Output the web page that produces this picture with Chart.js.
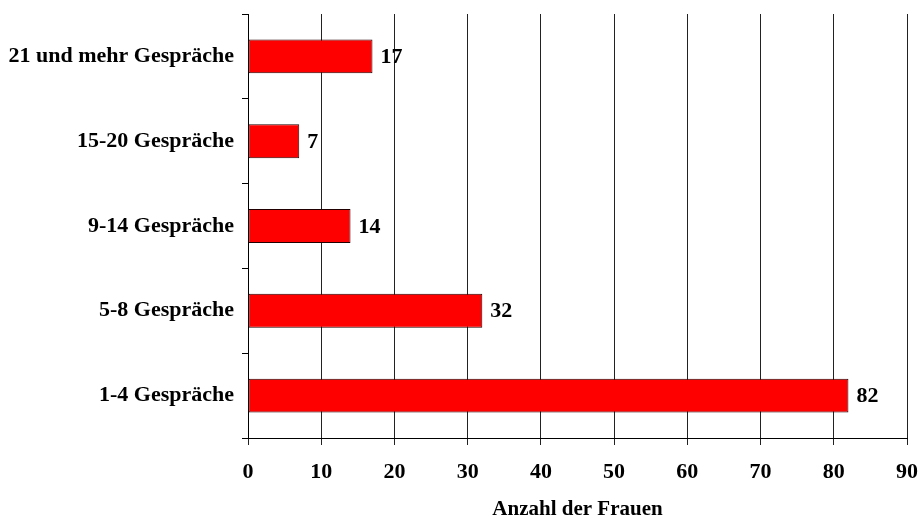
<!DOCTYPE html>
<html lang="de">
<head>
  <meta charset="UTF-8" />
  <title>Anzahl der Gespräche</title>
  <script src="https://cdn.jsdelivr.net/npm/chart.js"></script>
  <style>
    body {
      margin: 0;
      background-color: #ffffff;
    }
    canvas {
      display: block;
    }
  </style>
</head>
<body>
  <canvas id="gespraecheChart" width="919" height="518"></canvas>

  <script>
    const categories = ['21 und mehr Gespräche', '15-20 Gespräche', '9-14 Gespräche', '5-8 Gespräche', '1-4 Gespräche'];
    const frauen = [17, 7, 14, 32, 82];
    const xTicks = [0, 10, 20, 30, 40, 50, 60, 70, 80, 90];

    const fontFamily = '"Liberation Serif", "Times New Roman", serif';

    // value labels at the end of each bar
    const valueLabels = {
      id: 'valueLabels',
      afterDatasetsDraw(chart) {
        const ctx = chart.ctx;
        const meta = chart.getDatasetMeta(0);
        ctx.save();
        ctx.font = 'bold 22px ' + fontFamily;
        ctx.fillStyle = '#000';
        ctx.textAlign = 'left';
        ctx.textBaseline = 'middle';
        meta.data.forEach((bar, i) => {
          ctx.fillText(frauen[i], bar.x + 8, bar.y + 1);
        });
        ctx.restore();
      }
    };

    const ctx = document.getElementById('gespraecheChart').getContext('2d');
    new Chart(ctx, {
      type: 'bar',
      data: {
        labels: categories,
        datasets: [{
          label: 'Anzahl der Frauen',
          data: frauen,
          backgroundColor: '#ff0000',
          borderColor: '#200000',
          borderWidth: 1,
          borderSkipped: false,
          barPercentage: 0.4,
          categoryPercentage: 1.0
        }]
      },
      options: {
        indexAxis: 'y',
        responsive: false,
        animation: false,
        layout: {
          padding: { top: 14, right: 12, bottom: 0, left: 0 }
        },
        plugins: {
          legend: { display: false },
          tooltip: { enabled: false }
        },
        scales: {
          x: {
            min: 0,
            max: 90,
            afterBuildTicks(scale) {
              scale.ticks = xTicks.map(v => ({ value: v }));
            },
            afterFit(scale) {
              scale.height = 80;
              scale.paddingLeft = 0;
              scale.paddingRight = 0;
            },
            grid: {
              color: '#222',
              lineWidth: 1,
              tickLength: 7,
              drawOnChartArea: true
            },
            border: { color: '#000', width: 1 },
            ticks: {
              color: '#000',
              padding: 14,
              font: { family: fontFamily, size: 22, weight: 'bold' }
            },
            title: {
              display: true,
              text: 'Anzahl der Frauen',
              color: '#000',
              padding: { top: 18, bottom: -4 },
              font: { family: fontFamily, size: 21, weight: 'bold' }
            }
          },
          y: {
            afterFit(scale) {
              scale.width = 248;
              scale.paddingTop = 0;
              scale.paddingBottom = 0;
            },
            grid: {
              offset: true,
              drawOnChartArea: false,
              color: '#000',
              tickLength: 6
            },
            border: { color: '#000', width: 1 },
            ticks: {
              color: '#000',
              padding: 8,
              font: { family: fontFamily, size: 22, weight: 'bold' }
            }
          }
        }
      },
      plugins: [valueLabels]
    });
  </script>
</body>
</html>
